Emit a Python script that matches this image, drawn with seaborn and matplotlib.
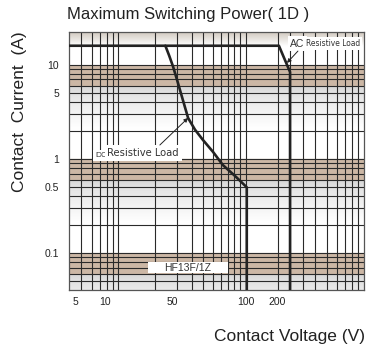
import numpy as np
import matplotlib
matplotlib.use("Agg")
import matplotlib.pyplot as plt
import matplotlib.patches as mpatches
from matplotlib import font_manager
import seaborn as sns

sns.set_theme(style="white")
plt.rcParams['font.family'] = ['Liberation Sans', 'DejaVu Sans']

# -----------------------------
# Data
# -----------------------------
# x axis of the sheet is a hand-drawn log grid; values below are in that grid's units
x_range = [1.135, 1981]
y_range = [0.0404, 22.4]

# vertical grid lines
x_grid = [1.54, 2.03, 2.49, 2.97, 3.45, 3.92, 10, 17.5, 25.5, 33.7, 43.4, 53.1,
          63.4, 73.8, 85.9, 100, 225, 305, 423, 573, 776, 1000, 1225, 1462, 1702]
# horizontal grid lines
y_grid = [0.05, 0.06, 0.07, 0.08, 0.09,
          0.1, 0.2, 0.3, 0.4, 0.5, 0.6, 0.7, 0.8, 0.9,
          1, 2, 3, 4, 5, 6, 7, 8, 9, 10]

x_tick_pos = [1.32, 2.82, 15.4, 100, 219]
x_tick_labels = ['5', '10', '50', '100', '200']
y_ticks = [0.1, 0.5, 1, 5, 10]
y_tick_labels = ['0.1', '0.5', '1', '5', '10']

# AC resistive load curve
ac_v = [1.135, 230, 305, 305]
ac_i = [16, 16, 8.4, 0.0404]

# DC resistive load curve
dc_v = [13, 14.3, 15.8, 17.5, 19.8, 23.1, 27.5, 33.7, 43.4, 55.8, 75.7, 102, 102]
dc_i = [16, 12.6, 9.6, 6.9, 4.57, 2.73, 2.05, 1.59, 1.19, 0.86, 0.66, 0.5, 0.0404]

# narrow font for the "Resistive Load" labels, if one is installed
names = {(f.name, str(f.stretch)) for f in font_manager.fontManager.ttflist}
if any(n == 'Liberation Sans Narrow' for n, _ in names):
    narrow = dict(family='Liberation Sans Narrow')
    ac_size, dc_size = 7.0, 9.5
elif ('DejaVu Sans', 'condensed') in names or ('DejaVu Sans', '75') in names:
    narrow = dict(family='DejaVu Sans', fontstretch='condensed')
    ac_size, dc_size = 6.0, 8.0
else:
    narrow = dict(family='Liberation Sans')
    ac_size, dc_size = 5.8, 9.0

# -----------------------------
# Figure
# -----------------------------
fig = plt.figure(figsize=(3.70, 3.53), dpi=100)
ax = fig.add_axes([69/370, 1-290/353, 295/370, 258/353])
ax.set_xscale('log')
ax.set_yscale('log')

# background bands: brown below each decade, fading grey to white
Ltop, Lbot = np.log10(y_range[1]), np.log10(y_range[0])
N = 600
rows = np.zeros((N, 1, 3))
brown = np.array([0.80, 0.72, 0.65])
grey = np.array([0.84, 0.84, 0.84])
white = np.ones(3)
for r in range(N):
    L = Ltop - (r + 0.5) / N * (Ltop - Lbot)
    f = np.ceil(L) - L
    if L > 1.2:
        t = (L - 1.2) / (Ltop - 1.2)
        c = white * (1 - t) + np.array([0.82, 0.79, 0.75]) * t
    elif f < 0.23:
        c = brown
    elif f < 0.68:
        t = ((f - 0.23) / 0.45) ** 0.7
        c = grey * (1 - t) + white * t
    else:
        c = white
    rows[r, 0] = c
ax.imshow(rows, extent=[0, 1, 0, 1], transform=ax.transAxes, aspect='auto', zorder=0)

for xv in x_grid:
    ax.axvline(xv, color='#2a2a2a', lw=0.8, zorder=1)
for yv in y_grid:
    ax.axhline(yv, color='#2a2a2a', lw=0.8, zorder=1)

sns.lineplot(x=ac_v, y=ac_i, sort=False, estimator=None, color='#222222', lw=1.9, ax=ax, zorder=3)
sns.lineplot(x=dc_v, y=dc_i, sort=False, estimator=None, color='#222222', lw=1.9, ax=ax, zorder=3)

ax.set_xlim(x_range)
ax.set_ylim(y_range)
ax.grid(False)
ax.xaxis.set_minor_locator(matplotlib.ticker.NullLocator())
ax.yaxis.set_minor_locator(matplotlib.ticker.NullLocator())
ax.set_xticks(x_tick_pos)
ax.set_xticklabels(x_tick_labels)
ax.set_yticks(y_ticks)
ax.set_yticklabels(y_tick_labels)
ax.tick_params(length=0, labelsize=7.5, colors='#222222')
ax.tick_params(axis='y', pad=7)
ax.tick_params(axis='x', pad=5)
for s in ax.spines.values():
    s.set_color('#555555')
    s.set_linewidth(0.9)

# labels on the curves
box = dict(boxstyle='square,pad=0.25', fc='white', ec='none')
ax.text(0.750, 0.955, 'AC', transform=ax.transAxes, ha='left', va='center',
        fontsize=7.5, color='#333333', bbox=box, zorder=4)
ax.text(0.802, 0.955, 'Resistive Load', transform=ax.transAxes, ha='left', va='center',
        fontsize=ac_size, color='#333333', bbox=box, zorder=4, **narrow)
ax.annotate('', xy=(282, 10.5), xytext=(0.776, 0.926), textcoords='axes fraction',
            arrowprops=dict(arrowstyle='-|>', color='#222222', lw=0.7,
                            mutation_scale=6, shrinkA=0, shrinkB=0), zorder=5)

ax.text(0.090, 0.522, 'DC', transform=ax.transAxes, ha='left', va='center',
        fontsize=6, color='#333333', bbox=box, zorder=4)
ax.text(0.130, 0.531, 'Resistive Load', transform=ax.transAxes, ha='left', va='center',
        fontsize=dc_size, color='#333333', bbox=box, zorder=4, **narrow)
ax.annotate('', xy=(23.1, 2.73), xytext=(0.308, 0.562), textcoords='axes fraction',
            arrowprops=dict(arrowstyle='-|>', color='#222222', lw=0.7,
                            mutation_scale=6, shrinkA=0, shrinkB=0), zorder=5)

ax.add_patch(mpatches.Rectangle((0.268, 0.066), 0.271, 0.043, transform=ax.transAxes,
                                fc='white', ec='none', zorder=4))
ax.text(0.403, 0.087, 'HF13F/1Z', transform=ax.transAxes, ha='center', va='center',
        fontsize=7.5, color='#333333', zorder=5)

fig.text(188/370, 1-15/353, 'Maximum Switching Power( 1D )', ha='center', va='center',
         fontsize=12, color='#222222')
fig.text(20/370, 1-112/353, 'Contact  Current  (A)', rotation=90, ha='center', va='center',
         fontsize=12.5, color='#222222')
fig.text(290/370, 1-337/353, 'Contact Voltage (V)', ha='center', va='center',
         fontsize=12.5, color='#222222')

fig.savefig('out.png', dpi=100)
